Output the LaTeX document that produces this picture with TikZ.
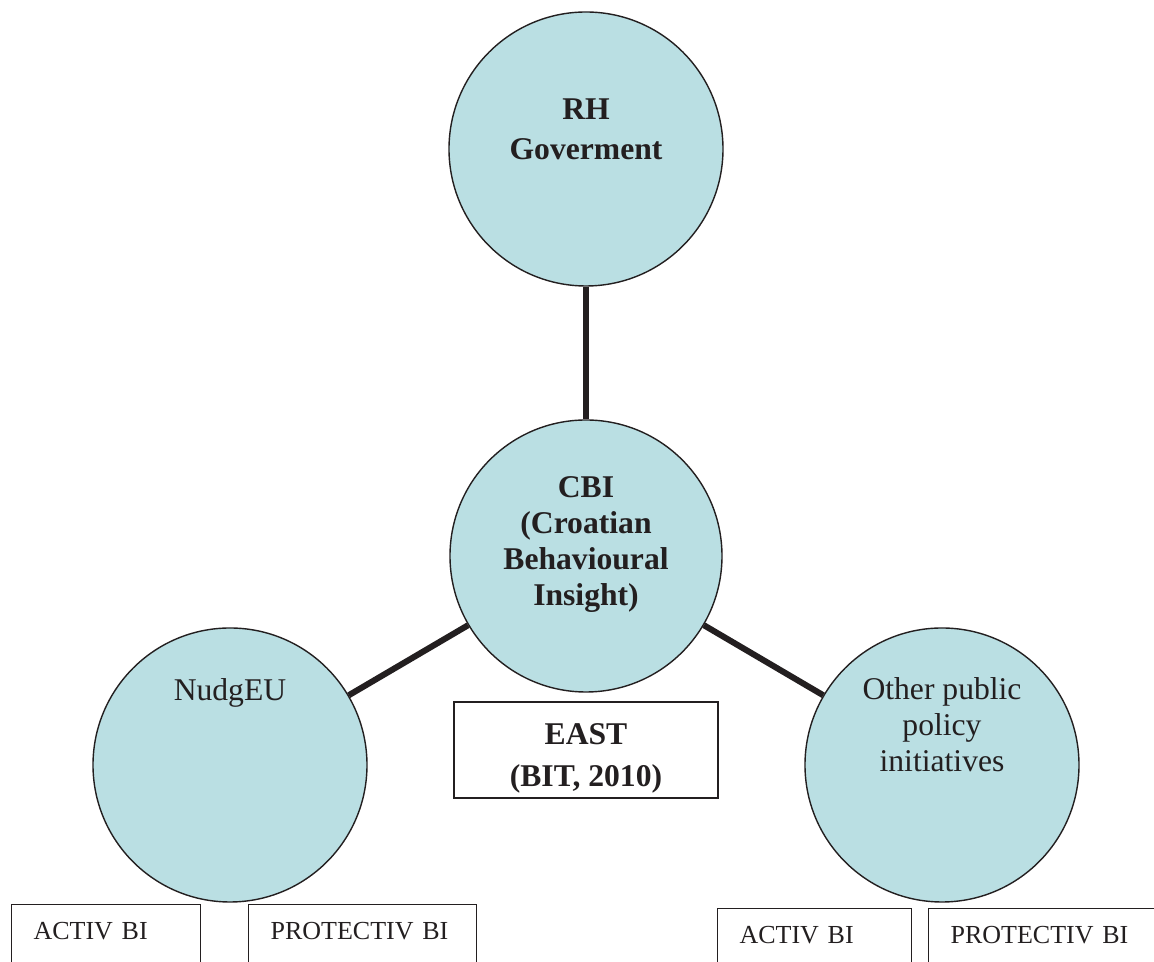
\documentclass[tikz,border=0pt]{standalone}
\usepackage{fontspec}
\setmainfont{Liberation Serif}
\usepackage{tikz}
\usetikzlibrary{positioning}
\definecolor{ink}{HTML}{231F20}
\definecolor{bubble}{HTML}{BADFE3}
\tikzset{
  actor/.style={circle,draw=ink,fill=bubble,line width=1pt,
                minimum size=6.85cm,inner sep=0pt},
  actortext/.style={align=center,font=\fontsize{22.5}{25.6}\selectfont,text=ink},
  eastbox/.style={draw=ink,line width=0.8pt,minimum width=6.6cm,minimum height=2.4cm},
  easttext/.style={align=center,font=\fontsize{22.5}{30}\selectfont\bfseries,text=ink},
  bibox/.style={draw=ink,line width=0.8pt,anchor=north west,align=left,
                inner xsep=0.55cm,inner ysep=0.45cm,text depth=0.8cm,
                font=\fontsize{18.5}{22}\selectfont,text=ink},
  tie/.style={draw=ink,line width=4.3pt}
}
\begin{document}
\begin{tikzpicture}[x=1cm,y=1cm]
  \useasboundingbox (0,0) rectangle (28.85,24.05);
  % the four circles
  \node[actor] (gov) at (14.65,20.325) {};
  \node[actor,minimum size=6.8cm] (cbi) at (14.65,10.15) {};
  \node[actor] (nudge) at (5.75,4.925) {};
  \node[actor] (other) at (23.55,4.925) {};
  \draw[tie] (gov) -- (cbi);
  \draw[tie] (cbi) -- (nudge);
  \draw[tie] (cbi) -- (other);
  % texts
  \node[actortext,font=\fontsize{22.5}{28.4}\selectfont\bfseries] (govtext)
    at ([yshift=0.49cm]gov.center) {RH\\Goverment};
  \node[actortext,font=\fontsize{22.5}{25.6}\selectfont\bfseries] (cbitext)
    at ([yshift=0.275cm]cbi.center) {CBI\\(Croatian\\Behavioural\\Insight)};
  \node[actortext] (nudgetext) at ([yshift=1.8cm]nudge.center) {NudgEU};
  \node[actortext] (othertext)
    at ([yshift=1.0cm]other.center) {Other public\\policy\\initiatives};
  \node[eastbox] (east) at (14.65,5.3) {};
  \node[easttext] (easttxt) at ([yshift=-0.2cm]east.center) {EAST\\(BIT, 2010)};
  % bottom boxes
  \node[bibox,text width=3.625cm] (activl) at (0.275,1.45) {ACTIV BI};
  \node[bibox,text width=4.6cm] (protl) at (6.2,1.45) {PROTECTIV BI};
  \node[bibox,text width=3.75cm] (activr) at (17.925,1.35) {ACTIV BI};
  \node[bibox,text width=5.4cm] (protr) at (23.2,1.35) {PROTECTIV BI};
\end{tikzpicture}
\end{document}
